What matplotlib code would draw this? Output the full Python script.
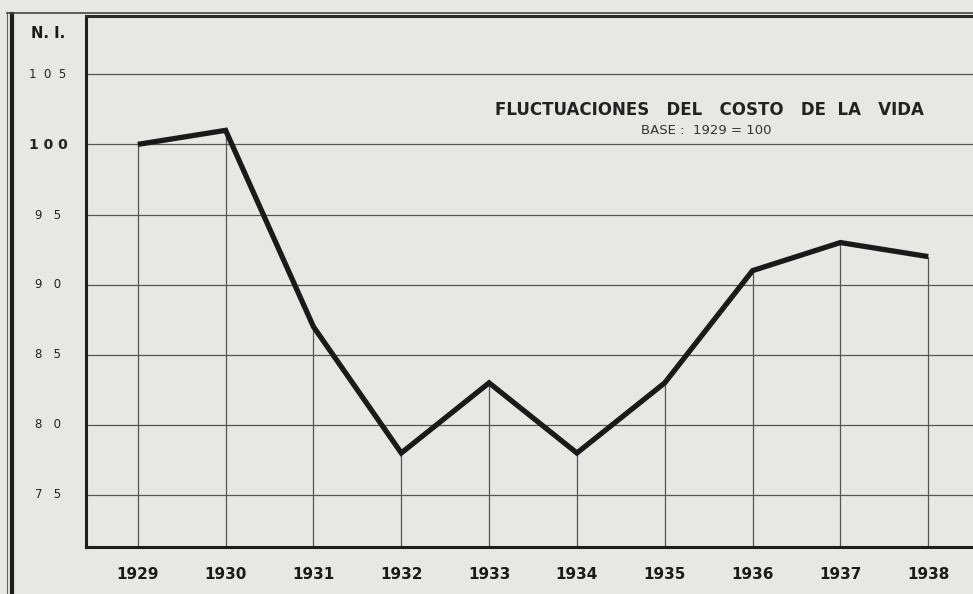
import matplotlib
matplotlib.use("Agg")
import matplotlib.pyplot as plt

years = [1929, 1930, 1931, 1932, 1933, 1934, 1935, 1936, 1937, 1938]
index_values = [100, 101, 87, 78, 83, 78, 83, 91, 93, 92]
y_ticks = [75, 80, 85, 90, 95, 100, 105]
y_tick_labels = ["7   5", "8   0", "8   5", "9   0", "9   5", "1 0 0", "1  0  5"]

W, H = 973, 594
fig = plt.figure(figsize=(W / 100, H / 100), dpi=100)
bg = "#e7e7e4"
fig.patch.set_facecolor(bg)

left, right, top, bottom = 86, 973, 16, 547
ax = fig.add_axes([left / W, 1 - bottom / H, (right - left) / W, (bottom - top) / H])
ax.set_facecolor(bg)
ax.set_xlim(1928.41, 1938.51)
ax.set_ylim(71.3, 109.15)

for yt in y_ticks:
    ax.axhline(yt, color="#555555", lw=0.9, zorder=1)
for x, v in zip(years, index_values):
    ax.plot([x, x], [71.3, v], color="#555555", lw=0.9, zorder=1)

ax.plot(years, index_values, color="#1a1a1a", lw=3.8, solid_joinstyle="miter",
        solid_capstyle="butt", zorder=3)

ax.set_xticks([])
ax.set_yticks([])
for s in ["left", "bottom"]:
    ax.spines[s].set_linewidth(2.2)
    ax.spines[s].set_color("#1e1e1e")
ax.spines["right"].set_visible(False)
ax.spines["top"].set_linewidth(2.2)
ax.spines["top"].set_color("#2a2a2a")

for x in years:
    ax.text(x, 71.3 - 1.45, str(x), ha="center", va="top",
            fontsize=11, fontweight="bold", color="#1a1a1a", clip_on=False)

def fy(val):
    return 1 - (145 + (100 - val) * 14) / H

for yt, lab in zip(y_ticks, y_tick_labels):
    fw = "bold" if yt == 100 else "normal"
    fs = 10 if yt == 100 else 8.5
    fig.text(48 / W, fy(yt), lab, ha="center", va="center", fontsize=fs,
             fontweight=fw, color="#222222")

fig.text(48 / W, 1 - 33 / H, "N. I.", ha="center", va="center", fontsize=10.5,
         fontweight="bold", color="#1a1a1a")

fig.add_artist(plt.Line2D([12 / W, 12 / W], [0, 1 - 14 / H], transform=fig.transFigure,
                          color="#1e1e1e", lw=3.0))
fig.add_artist(plt.Line2D([7 / W, 7 / W], [0, 1 - 12 / H], transform=fig.transFigure,
                          color="#666666", lw=0.8))
fig.add_artist(plt.Line2D([7 / W, 1], [1 - 13 / H, 1 - 13 / H], transform=fig.transFigure,
                          color="#444444", lw=1.2))

fig.text(709 / W, 1 - 110 / H, "FLUCTUACIONES   DEL   COSTO   DE  LA   VIDA", ha="center",
         va="center", fontsize=12, fontweight="bold", color="#222222")
fig.text(706 / W, 1 - 130 / H, "BASE :  1929 = 100", ha="center", va="center",
         fontsize=9.5, color="#333333")

fig.savefig("out.png", dpi=100, facecolor=bg)
